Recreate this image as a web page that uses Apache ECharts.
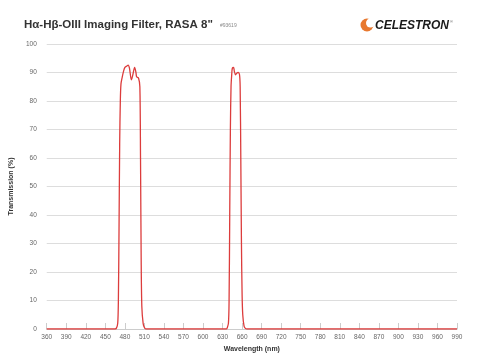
<!DOCTYPE html>
<html><head><meta charset="utf-8">
<script src="https://cdn.jsdelivr.net/npm/echarts@6/dist/echarts.min.js"></script>
<style>html,body{margin:0;padding:0;background:#fff}#c{width:480px;height:360px}</style>
</head><body><div id="c"></div>
<script>
var wavelength = [360,465,467,469,470,471,472,473,474,476,478,480,483,485,487,490,492,495,497,498,501,503,504,505,506,508,510,512,
  636,637,639,640,641,642,643,644,645,647,648,650,652,654,656,657,658,659,660,661,663,665,667,990];
var transmission = [0,0,0.3,2,10,35,65,80,86,88.5,90.5,91.8,92.3,92.6,91.5,87.4,89,91.8,90,88.5,88,85,60,25,8,2,0.5,0,
  0,0.3,2,10,40,70,85,89,91.5,91.8,90.5,89.2,89.8,90,89.3,85,60,30,12,5,1,0.2,0,0];
var xTicks = {min:360, max:990, step:30};
var yTicks = {min:0, max:100, step:10};
var titleText = 'H\u03B1-H\u03B2-OIII Imaging Filter, RASA 8"';
var skuText = '#93619';
var xName = 'Wavelength (nm)';
var yName = 'Transmission (%)';

var data = wavelength.map(function(w,i){return [w, transmission[i]];});
var chart = echarts.init(document.getElementById('c'), null, {renderer:'canvas'});
var font = 'Liberation Sans, Arial, sans-serif';
chart.setOption({
  animation:false,
  textStyle:{fontFamily:font},
  grid:{left:45, right:23, top:44, bottom:31, containLabel:false},
  graphic:[
    {type:'text', left:24, top:19, style:{text:titleText, font:'bold 11.5px '+font, fill:'#333'}},
    {type:'text', left:220, top:23, style:{text:skuText, font:'5px '+font, fill:'#888'}},
    {type:'circle', shape:{cx:367, cy:25, r:6.5}, style:{fill:'#e8782e'}},
    {type:'circle', shape:{cx:370.5, cy:23, r:4.5}, style:{fill:'#fff'}},
    {type:'text', left:375, top:20, style:{text:'CELESTRON', font:'italic 900 12px '+font, fill:'#1a1a1a'}},
    {type:'text', left:450, top:20, style:{text:'\u00AE', font:'4px '+font, fill:'#555'}}
  ],
  xAxis:{
    type:'value', min:xTicks.min, max:xTicks.max, interval:xTicks.step,
    name:xName, nameLocation:'middle', nameGap:13,
    nameTextStyle:{fontSize:7, fontWeight:'bold', color:'#333', fontFamily:font},
    axisLine:{show:true, lineStyle:{color:'#ccc', width:1}},
    axisTick:{show:true, inside:true, length:6, lineStyle:{color:'#ccc'}},
    axisLabel:{fontSize:6.5, color:'#666', margin:5, fontFamily:font},
    splitLine:{show:false}
  },
  yAxis:{
    type:'value', min:yTicks.min, max:yTicks.max, interval:yTicks.step,
    name:yName, nameLocation:'middle', nameGap:23, nameRotate:90,
    nameTextStyle:{fontSize:7, fontWeight:'bold', color:'#333', fontFamily:font},
    axisLine:{show:false}, axisTick:{show:false},
    axisLabel:{fontSize:6.5, color:'#666', margin:10, fontFamily:font},
    splitLine:{show:true, lineStyle:{color:'#ddd', width:1}}
  },
  series:[{
    type:'line', data:data, showSymbol:false, smooth:0.3,
    lineStyle:{color:'#dc3c3c', width:1.3}
  }]
});
</script></body></html>
